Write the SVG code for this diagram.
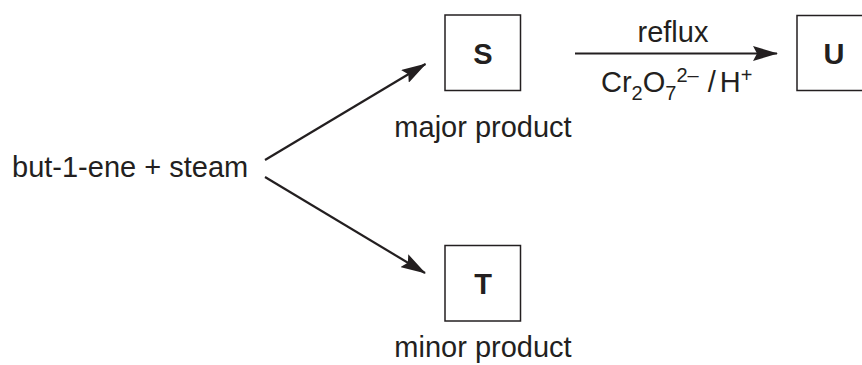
<svg xmlns="http://www.w3.org/2000/svg" width="862" height="365" viewBox="0 0 862 365">
<style>
text{font-family:"Liberation Sans",Arial,sans-serif;font-size:29px;fill:#231f20}
.lbl{font-weight:bold;text-anchor:middle}
.box{fill:#fff;stroke:#231f20;stroke-width:1.5}
.arr{stroke:#231f20;stroke-width:2.2;fill:none;marker-end:url(#ah)}
.sm{font-size:20px}
</style>
<defs>
<marker id="ah" markerUnits="userSpaceOnUse" viewBox="0 0 25 15" refX="24" refY="7.5" markerWidth="25" markerHeight="15" orient="auto">
<path d="M0,0 L25,7.5 L0,15 L4,7.5 z" fill="#231f20"/>
</marker>
</defs>
<rect width="862" height="365" fill="#fff"/>
<g id="connectors">
<line class="arr" x1="265" y1="160" x2="425.5" y2="64"/>
<line class="arr" x1="265" y1="177" x2="425" y2="273"/>
<line class="arr" x1="575" y1="53.5" x2="777" y2="53.5"/>
<text x="673" y="42" text-anchor="middle">reflux</text>
<text x="601" y="91.5">Cr<tspan class="sm" dy="8">2</tspan><tspan dy="-8">O</tspan><tspan class="sm" dy="8">7</tspan><tspan class="sm" dy="-18">2–</tspan><tspan dy="10" dx="9">/</tspan><tspan dx="4">H</tspan><tspan class="sm" dy="-10">+</tspan></text>
</g>
<g id="reactants">
<text x="12" y="177">but-1-ene + steam</text>
</g>
<g id="S">
<rect class="box" x="445" y="15" width="75.5" height="75.5"/>
<text class="lbl" x="483" y="64">S</text>
<text x="483" y="136.5" text-anchor="middle">major product</text>
</g>
<g id="T">
<rect class="box" x="445" y="245.5" width="75.5" height="75.5"/>
<text class="lbl" x="483" y="294">T</text>
<text x="483" y="356.5" text-anchor="middle">minor product</text>
</g>
<g id="U">
<rect class="box" x="797" y="15.5" width="75.5" height="75"/>
<text class="lbl" x="834" y="64">U</text>
</g>
</svg>
